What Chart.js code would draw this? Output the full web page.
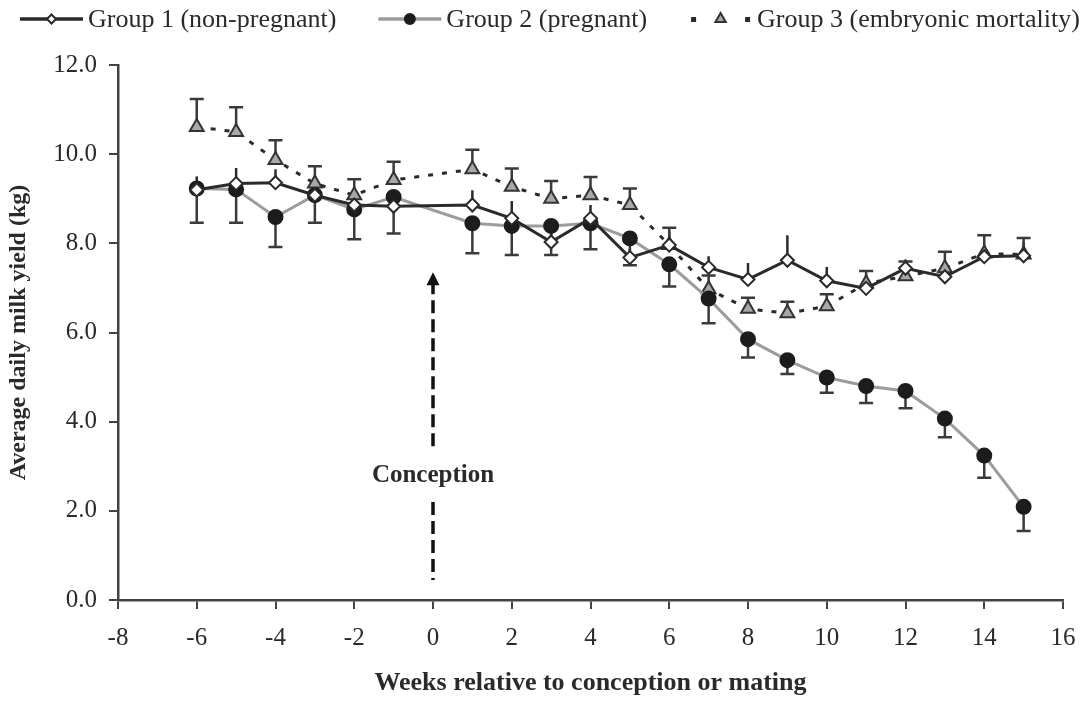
<!doctype html>
<html>
<head>
<meta charset="utf-8">
<title>Average daily milk yield</title>
<script src="https://cdn.jsdelivr.net/npm/chart.js@4.4.1/dist/chart.umd.min.js"></script>
<style>
  body { margin: 0; background: #fff; }
  #wrap { width: 1081px; height: 701px; }
</style>
</head>
<body>
<div id="wrap"><canvas id="myChart" width="1081" height="701"></canvas></div>
<script>
// weeks relative to conception (no point at week 0)
const weeks = [-6, -5, -4, -3, -2, -1, 1, 2, 3, 4, 5, 6, 7, 8, 9, 10, 11, 12, 13, 14, 15];

// Group 1 (non-pregnant), error bars drawn upwards
const group1 = [9.20, 9.34, 9.36, 9.08, 8.86, 8.83, 8.86, 8.56, 8.03, 8.56, 7.68, 7.96, 7.46, 7.19, 7.62, 7.16, 6.99, 7.44, 7.25, 7.70, 7.72];
const group1Err = [0.30, 0.35, 0.30, 0.30, 0.30, 0.30, 0.33, 0.39, 0.30, 0.30, 0.20, 0.30, 0.25, 0.37, 0.56, 0.31, 0.30, 0.20, 0.25, 0.25, 0.30];

// Group 2 (pregnant), error bars drawn downwards
const group2 = [9.23, 9.21, 8.59, 9.08, 8.76, 9.04, 8.45, 8.39, 8.39, 8.45, 8.11, 7.53, 6.76, 5.85, 5.38, 4.99, 4.80, 4.69, 4.07, 3.24, 2.09];
const group2Err = [0.77, 0.75, 0.67, 0.62, 0.67, 0.82, 0.67, 0.65, 0.65, 0.58, 0.60, 0.50, 0.55, 0.41, 0.31, 0.34, 0.38, 0.39, 0.42, 0.50, 0.54];

// Group 3 (embryonic mortality), error bars drawn upwards
const group3 = [10.61, 10.50, 9.87, 9.34, 9.08, 9.42, 9.66, 9.27, 9.00, 9.08, 8.86, 7.96, 6.97, 6.53, 6.43, 6.59, 7.10, 7.26, 7.44, 7.77, 7.75];
const group3Err = [0.63, 0.55, 0.44, 0.39, 0.36, 0.41, 0.44, 0.41, 0.40, 0.41, 0.37, 0.39, 0.31, 0.25, 0.26, 0.27, 0.28, 0.33, 0.37, 0.41, 0.37];

const xTicks = [-8, -6, -4, -2, 0, 2, 4, 6, 8, 10, 12, 14, 16];
const yTicks = [0, 2, 4, 6, 8, 10, 12];

// conception arrow at week 0
const conceptionWeek = 0;
const arrowLow = 0.45, arrowHigh = 7.35;
const labelGapLow = 2.2, labelGapHigh = 3.45, labelAt = 2.8;

const serif = '"Liberation Serif", "Times New Roman", serif';
const ink = '#2a2a2a';

const toPoints = (ys) => weeks.map((w, i) => ({ x: w, y: ys[i] }));

const seriesStyle = [
  { label: 'Group 1 (non-pregnant)', data: group1, err: group1Err, dir: 1, cap: 0,
    line: '#2a2a2a', dash: [], point: 'rectRot', radius: 6.5, fill: '#ffffff', border: '#2a2a2a' },
  { label: 'Group 2 (pregnant)', data: group2, err: group2Err, dir: -1, cap: 7,
    line: '#9c9c9c', dash: [], point: 'circle', radius: 7, fill: '#1c1c1c', border: '#1c1c1c' },
  { label: 'Group 3 (embryonic mortality)', data: group3, err: group3Err, dir: 1, cap: 7,
    line: '#2a2a2a', dash: [5, 9], point: 'triangle', radius: 8, fill: '#a8a8a8', border: '#333333' },
];

const errorBars = {
  id: 'errorBars',
  beforeDatasetsDraw(chart) {
    const { ctx, scales: { x, y } } = chart;
    ctx.save();
    ctx.lineWidth = 2.5;
    seriesStyle.forEach((s) => {
      ctx.strokeStyle = s.fill === '#ffffff' ? ink : '#3a3a3a';
      weeks.forEach((w, i) => {
        const px = x.getPixelForValue(w);
        const p0 = y.getPixelForValue(s.data[i]);
        const p1 = y.getPixelForValue(s.data[i] + s.dir * s.err[i]);
        ctx.beginPath();
        ctx.moveTo(px, p0);
        ctx.lineTo(px, p1);
        if (s.cap) {
          ctx.moveTo(px - s.cap, p1);
          ctx.lineTo(px + s.cap, p1);
        }
        ctx.stroke();
      });
    });
    ctx.restore();
  }
};

const conception = {
  id: 'conception',
  beforeDatasetsDraw(chart) {
    const { ctx, scales: { x, y } } = chart;
    const px = x.getPixelForValue(conceptionWeek);
    const top = y.getPixelForValue(arrowHigh);
    ctx.save();
    ctx.strokeStyle = '#111';
    ctx.fillStyle = '#111';
    ctx.lineWidth = 3.5;
    ctx.setLineDash([13, 6]);
    ctx.beginPath();
    ctx.moveTo(px, y.getPixelForValue(labelGapHigh));
    ctx.lineTo(px, top + 8);
    ctx.moveTo(px, y.getPixelForValue(labelGapLow));
    ctx.lineTo(px, y.getPixelForValue(arrowLow));
    ctx.stroke();
    ctx.setLineDash([]);
    ctx.beginPath();
    ctx.moveTo(px, top);
    ctx.lineTo(px - 6.5, top + 13);
    ctx.lineTo(px + 6.5, top + 13);
    ctx.closePath();
    ctx.fill();
    ctx.font = 'bold 25px ' + serif;
    ctx.fillStyle = ink;
    ctx.textAlign = 'center';
    ctx.textBaseline = 'middle';
    ctx.fillText('Conception', px, y.getPixelForValue(labelAt));
    ctx.restore();
  }
};

// legend: line sample with marker, drawn across the top of the canvas
const topLegend = {
  id: 'topLegend',
  afterDraw(chart) {
    const ctx = chart.ctx;
    ctx.save();
    ctx.font = '26px ' + serif;
    const sampleW = 63, gap = 5, spacing = 42;
    let xPos = 20;
    const yPos = 19;
    seriesStyle.forEach((s) => {
      ctx.strokeStyle = s.line;
      ctx.lineWidth = 3.5;
      if (s.dash.length) {
        ctx.fillStyle = s.line;
        ctx.fillRect(xPos + 2, yPos - 2, 5, 5);
        ctx.fillRect(xPos + sampleW - 7, yPos - 2, 5, 5);
      } else {
        ctx.beginPath();
        ctx.moveTo(xPos, yPos);
        ctx.lineTo(xPos + sampleW, yPos);
        ctx.stroke();
      }
      ctx.fillStyle = s.fill;
      ctx.strokeStyle = s.border;
      ctx.lineWidth = 2;
      Chart.helpers.drawPoint(ctx, { pointStyle: s.point, radius: s.radius - 2, borderWidth: 2, rotation: 0 }, xPos + sampleW / 2, yPos);
      ctx.fillStyle = ink;
      ctx.textAlign = 'left';
      ctx.textBaseline = 'middle';
      ctx.fillText(s.label, xPos + sampleW + gap, yPos + 1);
      xPos += sampleW + gap + ctx.measureText(s.label).width + spacing;
    });
    ctx.restore();
  }
};

const ctx = document.getElementById('myChart').getContext('2d');
const myChart = new Chart(ctx, {
  type: 'line',
  data: {
    datasets: seriesStyle.map(s => ({
      label: s.label,
      data: toPoints(s.data),
      borderColor: s.line,
      borderWidth: 3,
      borderDash: s.dash,
      pointStyle: s.point,
      pointRadius: s.radius,
      pointBackgroundColor: s.fill,
      pointBorderColor: s.border,
      pointBorderWidth: 2,
      tension: 0,
      fill: false,
    }))
  },
  options: {
    responsive: false,
    animation: false,
    events: [],
    layout: { padding: { top: 65, right: 0, left: 0, bottom: 0 } },
    scales: {
      x: {
        type: 'linear',
        min: -8,
        max: 16,
        afterBuildTicks: (scale) => { scale.ticks = xTicks.map(v => ({ value: v })); },
        afterFit: (scale) => { scale.height = 101; scale.paddingRight = 18; scale.paddingLeft = 0; },
        grid: { drawOnChartArea: false, drawTicks: true, tickLength: 9, color: '#444', lineWidth: 2 },
        border: { display: true, color: '#444', width: 2.5 },
        ticks: { color: ink, font: { family: serif, size: 25 }, padding: 14 },
        title: {
          display: true,
          text: 'Weeks relative to conception or mating',
          color: ink,
          font: { family: serif, size: 26, weight: 'bold' },
          padding: { top: 4, bottom: 2 }
        }
      },
      y: {
        min: 0,
        max: 12,
        afterBuildTicks: (scale) => { scale.ticks = yTicks.map(v => ({ value: v })); },
        afterFit: (scale) => { scale.width = 118; },
        grid: { drawOnChartArea: false, drawTicks: true, tickLength: 9, color: '#444', lineWidth: 2 },
        border: { display: true, color: '#444', width: 2.5 },
        ticks: {
          color: ink,
          font: { family: serif, size: 25 },
          padding: 12,
          callback: (value) => value.toFixed(1)
        },
        title: {
          display: true,
          text: 'Average daily milk yield (kg)',
          color: ink,
          font: { family: serif, size: 24, weight: 'bold' },
          padding: { top: 4, bottom: 4 }
        }
      }
    },
    plugins: {
      legend: { display: false },
      tooltip: { enabled: false }
    }
  },
  plugins: [errorBars, conception, topLegend]
});
</script>
</body>
</html>
